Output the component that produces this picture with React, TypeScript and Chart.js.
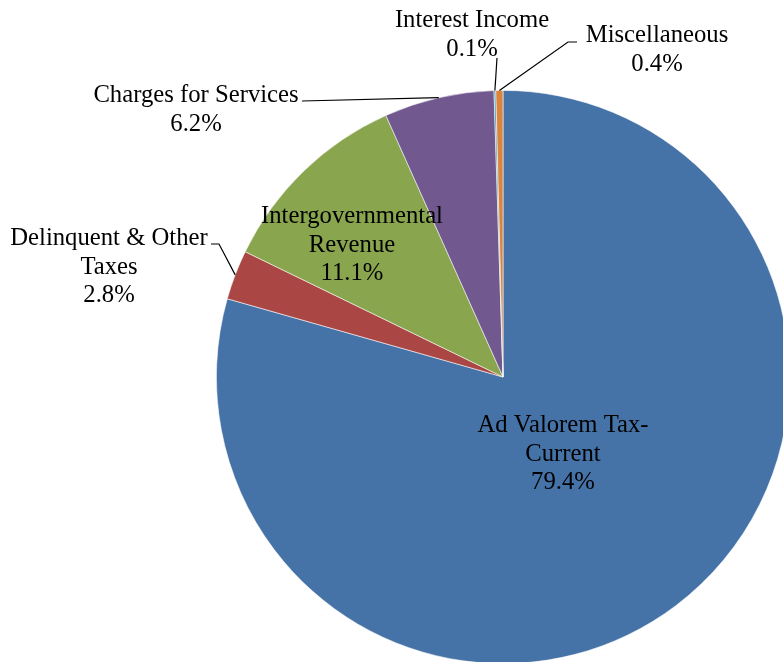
import React, { useEffect, useRef } from "react";
import { Chart, registerables } from "chart.js";

Chart.register(...registerables);

const categories = [
  "Ad Valorem Tax-Current",
  "Delinquent & Other Taxes",
  "Intergovernmental Revenue",
  "Charges for Services",
  "Interest Income",
  "Miscellaneous",
];
const values = [79.4, 2.8, 11.1, 6.2, 0.1, 0.4];
const labelLines = [
  ["Ad Valorem Tax-", "Current"],
  ["Delinquent & Other", "Taxes"],
  ["Intergovernmental", "Revenue"],
  ["Charges for Services"],
  ["Interest Income"],
  ["Miscellaneous"],
];

const colors = ["#4572A7", "#AA4643", "#89A54E", "#71588F", "#4198AF", "#DB843D"];

// label placement (canvas px): x center, first baseline, optional leader elbows
const labelLayout = [
  { x: 563, y: 432, leader: null },
  { x: 109, y: 245, leader: [[219, 244], [211, 244]] },
  { x: 352, y: 223, leader: null },
  { x: 196, y: 102, leader: [[302, 101]] },
  { x: 472, y: 27, leader: [[497, 58]] },
  { x: 657, y: 42, leader: [[568, 42], [577, 42]] },
];

const FONT = '24.7px "Liberation Serif", "Times New Roman", serif';
const LINE_H = 28.5;

const labelPlugin = {
  id: "pieLabels",
  afterDraw(chart: any) {
    const ctx = chart.ctx;
    const meta = chart.getDatasetMeta(0);
    ctx.save();
    ctx.font = FONT;
    ctx.fillStyle = "#000";
    ctx.textAlign = "center";
    ctx.textBaseline = "alphabetic";
    meta.data.forEach((arc: any, i: number) => {
      const lay = labelLayout[i];
      if (lay.leader) {
        const { x, y, startAngle, endAngle, outerRadius } = arc.getProps(
          ["x", "y", "startAngle", "endAngle", "outerRadius"],
          true
        );
        const mid = (startAngle + endAngle) / 2;
        const sx = x + Math.cos(mid) * outerRadius;
        const sy = y + Math.sin(mid) * outerRadius;
        ctx.beginPath();
        ctx.strokeStyle = "#000";
        ctx.lineWidth = 1.2;
        ctx.moveTo(sx, sy);
        lay.leader.forEach((p: number[]) => ctx.lineTo(p[0], p[1]));
        ctx.stroke();
      }
      const lines = [...labelLines[i], values[i].toFixed(1) + "%"];
      lines.forEach((t, k) => {
        ctx.fillText(t, lay.x, lay.y + k * LINE_H);
      });
    });
    ctx.restore();
  },
};

export default function App() {
  const ref = useRef<HTMLCanvasElement>(null);
  useEffect(() => {
    if (!ref.current) return;
    const chart = new Chart(ref.current, {
      type: "pie",
      data: {
        labels: categories,
        datasets: [
          {
            data: values,
            backgroundColor: colors,
            borderColor: "rgba(255,255,255,0.7)",
            borderWidth: 0.8,
          },
        ],
      },
      options: {
        responsive: false,
        animation: false,
        devicePixelRatio: 1,
        layout: { padding: { left: 216, top: 90, right: 10, bottom: 16 } },
        plugins: {
          legend: { display: false },
          tooltip: { enabled: false },
        },
      },
      plugins: [labelPlugin],
    });
    return () => chart.destroy();
  }, []);
  return (
    <div
      style={{
        position: "absolute",
        left: 0,
        top: 0,
        width: 783,
        height: 662,
        overflow: "hidden",
        background: "#fff",
      }}
    >
      <canvas ref={ref} width={800} height={680} style={{ width: 800, height: 680, display: "block" }} />
    </div>
  );
}
